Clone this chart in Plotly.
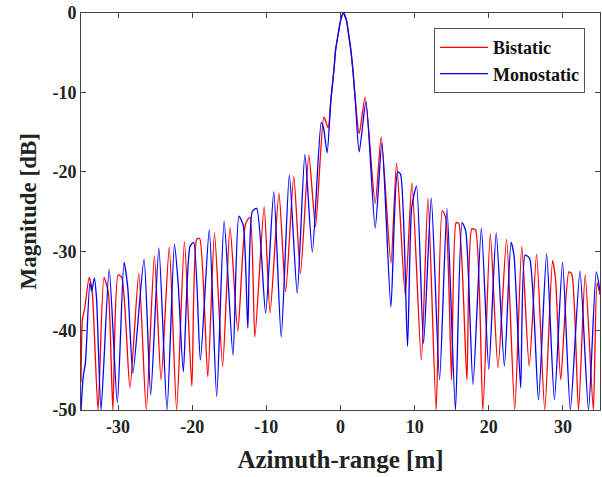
import plotly.graph_objects as go

# Bistatic (red) — digitized peaks / nulls
bi_x = [-35.0, -34.8, -34.5, -33.9, -33.5, -32.7, -31.9, -31.3, -30.7, -30.0, -29.5, -28.4,
        -27.2, -26.2, -25.1, -24.2, -23.1, -22.1, -21.05, -20.05, -19.4, -19.0, -17.9,
        -17.0, -15.9, -14.9, -13.85, -12.8, -12.2, -11.55, -10.3, -9.5, -8.3, -7.4,
        -6.3, -5.4, -4.27, -3.37, -2.24, -1.66,
        -1.3, -0.85, -0.67, -0.3, 0.0, 0.38, 0.8, 1.08, 1.4, 1.7, 2.0, 2.52,
        3.33, 4.68, 5.49, 6.8, 7.56, 8.73, 9.63, 10.9, 11.8, 12.9, 13.72, 14.2, 14.98,
        15.6, 15.95, 17.05, 17.7, 18.2, 19.2, 20.2, 21.24, 22.4, 23.5, 24.45, 25.45,
        26.45, 27.55, 28.6, 29.0, 29.7, 30.8, 31.2, 32.1, 33.0, 34.1, 34.6, 35.0]
bi_y = [-46.5, -38.5, -37.2, -33.3, -35.0, -50.0, -33.3, -35.3, -50.0, -33.0, -33.3, -47.2,
        -32.8, -50.0, -30.6, -46.2, -29.5, -50.0, -28.8, -47.0, -28.5, -28.4, -45.8,
        -27.7, -44.5, -27.0, -40.1, -26.5, -25.7, -40.8, -24.4, -37.8, -22.7, -35.1,
        -20.6, -32.8, -17.9, -26.9, -13.1, -14.5,
        -11.0, -6.8, -4.7, -2.6, -1.0, 0.0, -0.9, -2.6, -4.7, -7.5, -11.0, -15.2,
        -10.6, -24.0, -15.6, -31.5, -18.9, -35.5, -21.4, -43.7, -23.3, -50.0, -24.9, -25.8, -46.2,
        -26.4, -26.5, -46.2, -27.2, -27.3, -50.0, -27.8, -44.7, -28.5, -50.0, -29.4, -44.5,
        -30.4, -50.0, -31.2, -33.5, -46.2, -32.6, -32.9, -50.0, -33.0, -50.0, -34.0, -35.5]

# Monostatic (blue)
mono_x = [-35.0, -34.7, -34.4, -33.8, -33.55, -33.2, -32.9, -32.3, -31.2, -30.1, -29.2, -28.7,
          -28.0, -26.5, -25.6, -24.5, -23.4, -22.4, -21.9, -21.2, -20.3, -19.8, -18.9,
          -17.7, -16.7, -15.7, -14.5, -13.7, -13.1, -12.5, -11.9, -11.3, -10.1, -9.0,
          -8.0, -6.9, -5.84, -4.8, -3.8, -2.6, -2.3, -1.8,
          -1.3, -0.85, -0.67, -0.3, 0.0, 0.38, 0.8, 1.08, 1.4, 1.7, 2.0, 2.52,
          3.43, 4.68, 5.58, 6.8, 7.7, 8.1, 9.04, 9.6, 10.26, 11.2, 12.24, 13.36, 14.36,
          15.5, 16.4, 16.9, 17.87, 19.0, 20.0, 21.0, 22.1, 23.0, 23.4, 24.3, 24.9, 25.5,
          26.7, 27.8, 28.85, 29.95, 31.0, 32.3, 33.45, 34.5, 35.0]
mono_y = [-50.0, -45.8, -44.0, -34.0, -35.0, -33.4, -36.0, -50.0, -32.3, -49.1, -31.4, -34.5,
          -45.4, -31.0, -48.1, -29.6, -50.0, -29.1, -34.0, -45.2, -29.4, -28.9, -43.7,
          -27.3, -48.3, -26.2, -43.1, -25.6, -26.8, -39.7, -25.0, -24.6, -37.8, -22.5,
          -40.8, -20.4, -35.3, -17.8, -30.1, -13.8, -14.4, -17.6,
          -11.0, -6.8, -4.7, -2.6, -1.0, 0.0, -0.9, -2.6, -4.7, -7.5, -11.0, -17.5,
          -11.2, -27.1, -16.4, -37.0, -20.0, -20.3, -42.0, -24.5, -21.8, -41.6, -23.3, -46.2, -24.6,
          -50.0, -26.4, -27.5, -46.8, -27.1, -44.9, -27.7, -44.5, -28.9, -30.5, -47.2, -30.5, -30.9,
          -48.7, -30.3, -48.7, -31.4, -50.0, -32.5, -50.0, -32.6, -35.0]

x_ticks = [-30, -20, -10, 0, 10, 20, 30]
y_ticks = [0, -10, -20, -30, -40, -50]

font_family = "Liberation Serif"
txt_color = "#222222"

fig = go.Figure()
fig.add_trace(go.Scatter(x=bi_x, y=bi_y, mode="lines", name="<b>Bistatic</b>",
                         line=dict(color="#ff0000", width=1.3, shape="spline", smoothing=0.6)))
fig.add_trace(go.Scatter(x=mono_x, y=mono_y, mode="lines", name="<b>Monostatic</b>",
                         line=dict(color="#0000ff", width=1.3, shape="spline", smoothing=0.6)))

axis_common = dict(showgrid=False, zeroline=False, showline=True, linecolor="#444444",
                   linewidth=1, mirror="ticks", ticks="inside", ticklen=5,
                   tickcolor="#444444", tickfont=dict(family=font_family, size=18, color=txt_color))

fig.update_xaxes(range=[-35, 35], tickvals=x_ticks, ticktext=[f"<b>{v}</b>" for v in x_ticks],
                 title=dict(text="<b>Azimuth-range [m]</b>",
                            font=dict(family=font_family, size=25, color=txt_color), standoff=14),
                 **axis_common)
fig.update_yaxes(range=[-50, 0], tickvals=y_ticks, ticktext=[f"<b>{v}</b>" for v in y_ticks],
                 **axis_common)

# y-axis title placed as a rotated annotation so its position matches the reference
fig.add_annotation(text="<b>Magnitude [dB]</b>", textangle=-90, showarrow=False,
                   xref="paper", yref="paper", x=-0.102, y=0.5, xanchor="center", yanchor="middle",
                   font=dict(family=font_family, size=23, color=txt_color))

fig.update_layout(
    width=602, height=477,
    margin=dict(l=81, r=2, t=13, b=67, autoexpand=False),
    plot_bgcolor="white", paper_bgcolor="white",
    showlegend=True,
    legend=dict(x=0.971, y=0.962, xanchor="right", yanchor="top",
                bgcolor="white", bordercolor="#555555", borderwidth=1,
                font=dict(family=font_family, size=18, color="#111111"),
                tracegroupgap=0, itemwidth=48),
)

# remove the default page margin so the 602x477 figure fills the window exactly
fig.write_html("out.html", config={"displayModeBar": False},
               post_script="document.body.style.margin='0px';document.body.style.overflow='hidden';")
